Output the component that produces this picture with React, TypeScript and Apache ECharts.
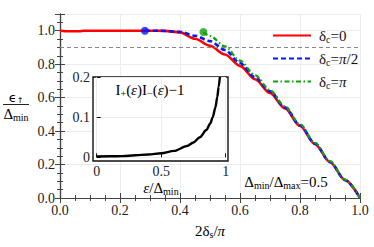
import React, { useEffect, useRef } from "react";
import * as echarts from "echarts";

const SERIF = "'Liberation Serif', 'DejaVu Serif', serif";

// main plot: 2δs/π vs ε↑/Δmin
const xRed = [0, 0.03, 0.065, 0.08, 0.2, 0.3, 0.35, 0.4, 0.45, 0.5, 0.55, 0.6, 0.65, 0.7, 0.75, 0.8, 0.85, 0.9, 0.95, 1.0];
const yRed = [1.0, 0.997, 0.997, 1.0, 1.0, 1.0, 0.999, 0.99, 0.952, 0.91, 0.858, 0.79, 0.71, 0.628, 0.535, 0.43, 0.322, 0.214, 0.107, 0];
const xBlue = [0.283, 0.33, 0.4, 0.45, 0.5, 0.55, 0.6, 0.65, 0.7, 0.75, 0.8, 0.85, 0.9, 0.95, 1.0];
const yBlue = [1.0, 1.0, 0.993, 0.97, 0.938, 0.885, 0.807, 0.722, 0.638, 0.542, 0.435, 0.325, 0.216, 0.108, 0];
const xGreen = [0.478, 0.5, 0.55, 0.6, 0.65, 0.7, 0.75, 0.8, 0.85, 0.9, 0.95, 1.0];
const yGreen = [0.992, 0.968, 0.906, 0.821, 0.735, 0.645, 0.548, 0.44, 0.33, 0.22, 0.11, 0];
const dotBlue = [0.283, 1.0];
const dotGreen = [0.478, 0.992];
const refLevel = 0.9;

// inset: I+(ε)I-(ε) - 1 vs ε/Δmin
const xInset = [0, 0.1, 0.2, 0.3, 0.4, 0.5, 0.6, 0.7, 0.75, 0.8, 0.85, 0.88, 0.9, 0.92, 0.935, 0.945, 0.955];
const yInset = [0.002, 0.0025, 0.003, 0.005, 0.007, 0.01, 0.016, 0.028, 0.037, 0.05, 0.068, 0.084, 0.1, 0.124, 0.15, 0.175, 0.2];

const seriesNames = ["δc=0", "δc=π/2", "δc=π"];
const legendRich: Record<string, string> = {
  "δc=0": "{n|δ}{s|c}{n|=0}",
  "δc=π/2": "{n|δ}{s|c}{n|=}{i|π}{n|/2}",
  "δc=π": "{n|δ}{s|c}{n|=}{i|π}",
};

const zip = (xs: number[], ys: number[]) => xs.map((x, i) => [x, ys[i]]);

const rich = (size: number) => ({
  n: { fontFamily: SERIF, fontSize: size, color: "#111" },
  t: { fontFamily: SERIF, fontSize: size, color: "#111" },
  i: { fontFamily: SERIF, fontSize: size, color: "#111", fontStyle: "italic" },
  s: { fontFamily: SERIF, fontSize: Math.round(size * 0.66), color: "#111", padding: [Math.round(size * 0.45), 0, 0, 0] },
  e: { fontFamily: "'DejaVu Sans', sans-serif", fontSize: size, color: "#111" },
  a: { fontFamily: "'DejaVu Sans', sans-serif", fontSize: Math.round(size * 0.6), color: "#111", padding: [Math.round(size * 0.45), 0, 0, 0] },
});

const frame = "#444";
const mainAxisCommon = {
  type: "value" as const,
  gridIndex: 0,
  axisLine: { show: true, lineStyle: { color: frame, width: 1.2 } },
  axisTick: { show: true, inside: true, length: 5, lineStyle: { color: frame, width: 1 } },
  minorTick: { show: true, splitNumber: 4, length: 3, lineStyle: { color: frame, width: 1 } },
  z: 0,
};

export default function App() {
  const ref = useRef<HTMLDivElement>(null);
  useEffect(() => {
    if (!ref.current) return;
    const chart = echarts.init(ref.current, undefined, { renderer: "svg" });
    const fmt1 = (v: number) => (v > 1.05 ? "" : v.toFixed(1));
    chart.setOption({
      animation: false,
      backgroundColor: "#fff",
      grid: [
        { left: 60, top: 14, width: 300, height: 184 },
        { left: 96.7, top: 77, width: 129, height: 80.3 },
      ],
      xAxis: [
        {
          ...mainAxisCommon,
          min: 0, max: 1, interval: 0.2, position: "bottom",
          splitLine: { show: true, lineStyle: { color: "#ececec", width: 1 } },
          axisLabel: { fontFamily: SERIF, fontSize: 14, color: "#222", margin: 5, formatter: fmt1 },
        },
        {
          ...mainAxisCommon,
          min: 0, max: 1, interval: 0.2, position: "top",
          splitLine: { show: false },
          axisLabel: { show: false },
        },
        {
          type: "value", gridIndex: 1, min: 0, max: 1, interval: 0.5, position: "bottom", offset: 3.7, z: 3,
          axisLine: { show: false },
          axisTick: { show: true, inside: true, length: 4, lineStyle: { color: "#111" } },
          splitLine: { show: true, lineStyle: { color: "#ececec" } },
          axisLabel: { fontFamily: SERIF, fontSize: 14, color: "#222", margin: 3, formatter: (v: number) => (v === 0 ? "0" : v === 1 ? "1" : String(v)) },
        },
      ],
      yAxis: [
        {
          ...mainAxisCommon,
          min: 0, max: 1.1, interval: 0.2, position: "left",
          splitLine: { show: true, lineStyle: { color: "#ececec", width: 1 } },
          axisLabel: { fontFamily: SERIF, fontSize: 14, color: "#222", margin: 5, formatter: fmt1 },
        },
        {
          ...mainAxisCommon,
          min: 0, max: 1.1, interval: 0.2, position: "right",
          splitLine: { show: false },
          axisLabel: { show: false },
        },
        {
          type: "value", gridIndex: 1, min: 0, max: 0.2, interval: 0.1, position: "left", offset: 3.7, z: 3,
          axisLine: { show: false },
          axisTick: { show: true, inside: true, length: 4, lineStyle: { color: "#111" } },
          splitLine: { show: true, lineStyle: { color: "#ececec" } },
          axisLabel: { fontFamily: SERIF, fontSize: 14, color: "#222", margin: 3, formatter: (v: number) => (v === 0 ? "0" : v.toFixed(1)) },
        },
      ],
      legend: {
        orient: "vertical",
        left: 272,
        top: 28,
        itemWidth: 38,
        itemHeight: 14,
        itemGap: 7,
        padding: 0,
        data: seriesNames,
        itemStyle: { opacity: 0 },
        formatter: (name: string) => legendRich[name],
        textStyle: { fontFamily: SERIF, fontSize: 15, color: "#111", padding: [0, 0, 0, 3], rich: rich(15) },
      },
      series: [
        {
          name: seriesNames[0], type: "line", xAxisIndex: 0, yAxisIndex: 0,
          data: zip(xRed, yRed), symbol: "none", smooth: 0.3, smoothMonotone: "x",
          lineStyle: { color: "#ff0000", width: 2.6 }, itemStyle: { color: "#ff0000" }, z: 2,
          markLine: {
            silent: true, symbol: "none", label: { show: false },
            lineStyle: { color: "#888", type: [4, 3], width: 1 },
            data: [{ yAxis: refLevel }],
          },
        },
        {
          name: seriesNames[1], type: "line", xAxisIndex: 0, yAxisIndex: 0,
          data: zip(xBlue, yBlue), symbol: "none", smooth: 0.3, smoothMonotone: "x",
          lineStyle: { color: "#0a14ff", width: 2.6, type: [5, 3] }, itemStyle: { color: "#0a14ff" }, z: 3,
        },
        {
          name: seriesNames[2], type: "line", xAxisIndex: 0, yAxisIndex: 0,
          data: zip(xGreen, yGreen), symbol: "none", smooth: 0.3, smoothMonotone: "x",
          lineStyle: { color: "#10a010", width: 2.2, type: [5, 2.5, 1.5, 2.5] }, itemStyle: { color: "#10a010" }, z: 4,
        },
        {
          type: "scatter", xAxisIndex: 0, yAxisIndex: 0, data: [dotBlue], symbolSize: 8,
          itemStyle: { color: "#0a14ff" }, z: 5,
        },
        {
          type: "scatter", xAxisIndex: 0, yAxisIndex: 0, data: [dotGreen], symbolSize: 8,
          itemStyle: { color: "#10a010" }, z: 5,
        },
        {
          type: "line", xAxisIndex: 2, yAxisIndex: 2, data: zip(xInset, yInset),
          symbol: "none", smooth: 0.3, smoothMonotone: "x",
          lineStyle: { color: "#000", width: 2.4 }, z: 6,
        },
      ],
      graphic: [
        {
          type: "rect", z: 1, silent: true,
          shape: { x: 93, y: 77, width: 135, height: 84 },
          style: { fill: "#fff", stroke: "#111", lineWidth: 1.4 },
        },
        {
          type: "text", z: 7, x: 150, y: 90,
          style: {
            text: "{t|I}{s|+}{t|(}{i|ε}{t|)I}{s|−}{t|(}{i|ε}{t|)−1}",
            rich: rich(15), align: "center", verticalAlign: "middle",
          },
        },
        {
          type: "text", z: 7, x: 161, y: 188,
          style: { text: "{i|ε}{t|/Δ}{s|min}", rich: rich(15), align: "center", verticalAlign: "middle" },
        },
        {
          type: "text", z: 7, x: 286, y: 182,
          style: { text: "{t|Δ}{s|min}{t|/Δ}{s|max}{t|=0.5}", rich: rich(15), align: "center", verticalAlign: "middle" },
        },
        {
          type: "text", z: 7, x: 210, y: 231,
          style: { text: "{t|2δ}{s|s}{t|/}{i|π}", rich: rich(15), align: "center", verticalAlign: "middle" },
        },
        {
          type: "text", z: 7, x: 16, y: 97,
          style: { text: "{e|ϵ}{a|↑}", rich: rich(13), align: "center", verticalAlign: "middle" },
        },
        {
          type: "line", z: 7, shape: { x1: 3, y1: 104.5, x2: 29, y2: 104.5 },
          style: { stroke: "#222", lineWidth: 1 },
        },
        {
          type: "text", z: 7, x: 16, y: 114,
          style: { text: "{t|Δ}{s|min}", rich: rich(15), align: "center", verticalAlign: "middle" },
        },
      ],
    });
    return () => chart.dispose();
  }, []);
  return (
    <div
      ref={ref}
      style={{ position: "fixed", left: 0, top: 0, width: 374, height: 247, background: "#fff" }}
    />
  );
}
